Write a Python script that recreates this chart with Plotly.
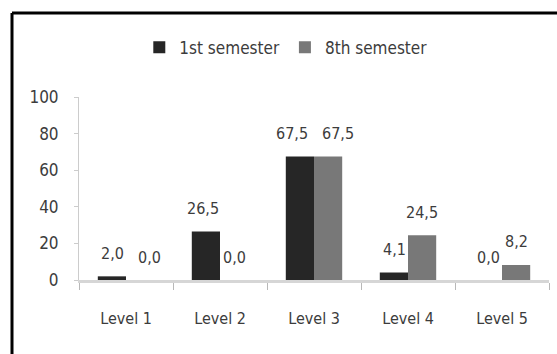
import plotly.graph_objects as go

categories = ["Level 1", "Level 2", "Level 3", "Level 4", "Level 5"]
first_sem = [2.0, 26.5, 67.5, 4.1, 0.0]
eighth_sem = [0.0, 0.0, 67.5, 24.5, 8.2]
series_names = ["1st semester", "8th semester"]

def fmt(v):
    return f"{v:.1f}".replace(".", ",")

FONT = "DejaVu Sans Condensed"
TXT = "#3c3c3c"

# small horizontal nudges of data labels (pixels), as in the reference layout
label_nudge = {(0, 1): 9, (2, 0): -8, (2, 1): 10, (1, 0): -3}

fig = go.Figure()
fig.add_trace(go.Bar(
    x=categories, y=first_sem, name=series_names[0],
    marker=dict(color="#262626", line=dict(width=0)),
))
fig.add_trace(go.Bar(
    x=categories, y=eighth_sem, name=series_names[1],
    marker=dict(color="#787878", line=dict(width=0)),
))

for s, (vals, dx) in enumerate(((first_sem, -14), (eighth_sem, 14))):
    for i, (c, v) in enumerate(zip(categories, vals)):
        fig.add_annotation(x=c, y=v, text=fmt(v), showarrow=False,
                           xshift=dx + label_nudge.get((i, s), 0), yshift=23,
                           yanchor="middle",
                           font=dict(family=FONT, size=16, color=TXT))

fig.update_layout(
    width=557, height=354,
    margin=dict(l=79, r=8, t=97, b=74),
    paper_bgcolor="white", plot_bgcolor="white",
    barmode="group", bargap=0.4, bargroupgap=0,
    font=dict(family=FONT, size=16, color=TXT),
    showlegend=True,
    legend=dict(orientation="h", x=0.44, xanchor="center", y=1.27, yanchor="middle",
                font=dict(family=FONT, size=17, color=TXT),
                itemwidth=30, tracegroupgap=0),
    xaxis=dict(showgrid=False, showline=True, linecolor="#d6d6d6", linewidth=3,
               ticks="outside", tickson="boundaries", ticklen=7, tickcolor="#b8b8b8",
               ticklabelstandoff=22,
               tickfont=dict(family=FONT, size=16, color=TXT)),
    yaxis=dict(range=[0, 100], dtick=20, showgrid=False, showline=True,
               linecolor="#cccccc", linewidth=1, ticks="outside", ticklen=4,
               tickcolor="#cccccc", zeroline=False, ticklabelstandoff=12,
               tickfont=dict(family=FONT, size=17, color=TXT)),
    shapes=[
        dict(type="line", xref="paper", yref="paper",
             x0=-67/470, x1=1.1, y0=1 + 84/183, y1=1 + 84/183,
             line=dict(color="black", width=3)),
        dict(type="line", xref="paper", yref="paper",
             x0=-67/470, x1=-67/470, y0=1 + 84/183, y1=-0.5,
             line=dict(color="black", width=3)),
    ],
)

fig.write_html("out.html")
